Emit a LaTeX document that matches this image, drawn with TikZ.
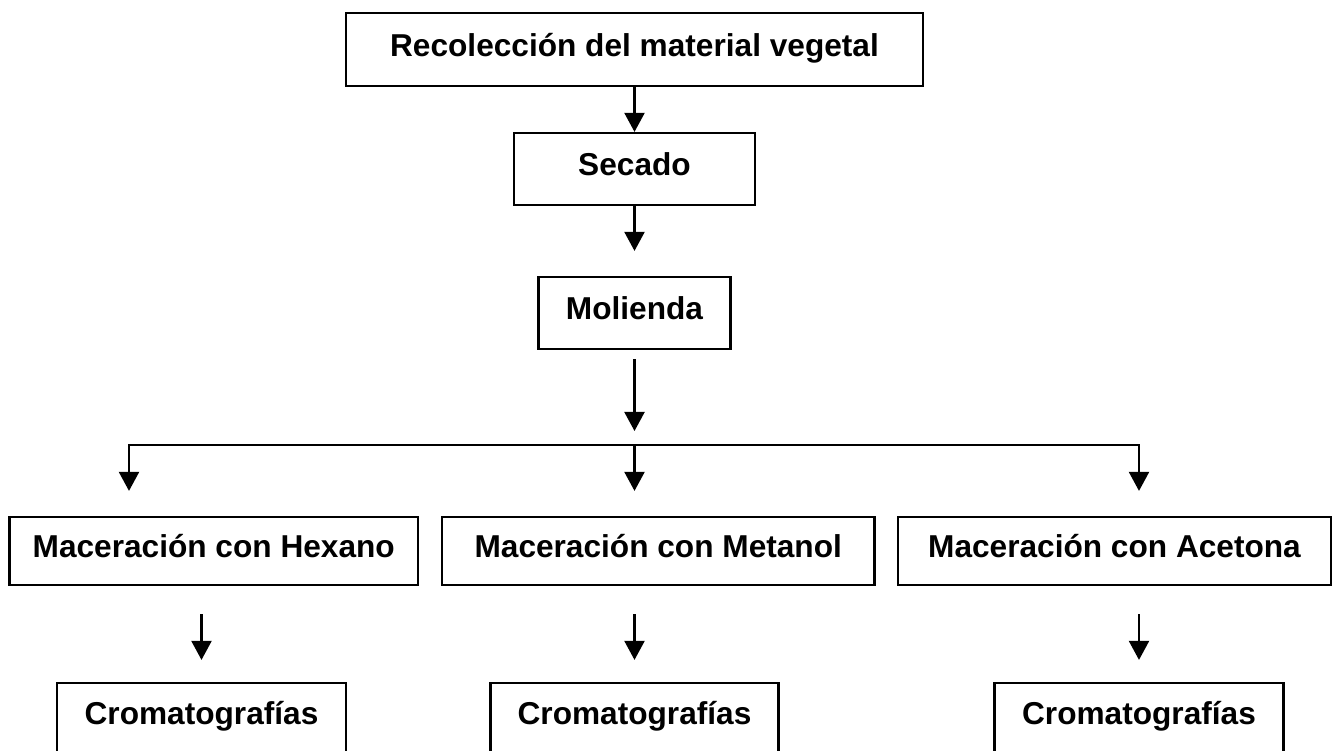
\documentclass[tikz,border=0pt]{standalone}
\usepackage{fontspec}
\setmainfont{Liberation Sans}
\usepackage{tikz}
\usetikzlibrary{arrows.meta}
\usetikzlibrary{calc}

\begin{document}
\begin{tikzpicture}[
	paso/.style={draw,line width=1.25pt,align=center,inner sep=0pt,
		font=\fontsize{18}{22}\selectfont\bfseries,text height=12.5pt,text depth=5pt},
	flecha/.style={line width=1.2pt,-{Triangle[length=0.38cm,width=0.4cm]}}]
	\useasboundingbox (0,0) rectangle (26.7,-15.02);
	
	\node[paso,minimum width=11.54cm,minimum height=1.46cm] (recoleccion) at (12.69,-0.99) {Recolección del material vegetal};
	\node[paso,minimum width=4.82cm,minimum height=1.44cm] (secado) at (12.69,-3.38) {Secado};
	\node[paso,minimum width=3.84cm,minimum height=1.44cm] (molienda) at (12.69,-6.26) {Molienda};
	
	\node[paso,minimum width=8.17cm,minimum height=1.36cm] (hexano) at (4.275,-11.02) {Maceración con Hexano};
	\node[paso,minimum width=8.65cm,minimum height=1.36cm] (metanol) at (13.165,-11.02) {Maceración con Metanol};
	\node[paso,minimum width=8.66cm,minimum height=1.36cm] (acetona) at (22.29,-11.02) {Maceración con Acetona};
	
	\node[paso,minimum width=5.78cm,minimum height=1.4cm] (crom1) at (4.03,-14.36) {Cromatografías};
	\node[paso,minimum width=5.76cm,minimum height=1.4cm] (crom2) at (12.69,-14.36) {Cromatografías};
	\node[paso,minimum width=5.78cm,minimum height=1.4cm] (crom3) at (22.78,-14.36) {Cromatografías};
	
	\coordinate (division) at (12.69,-8.9);
	\coordinate (izq) at (2.58,-8.9);
	\coordinate (der) at (22.78,-8.9);
	
	\draw[flecha] (recoleccion) -- (secado);
	\draw[flecha,shorten >=0.5cm] (secado) -- (molienda);
	\draw[flecha,shorten <=0.18cm,shorten >=0.28cm] (molienda) -- (division);
	
	\draw[flecha,shorten >=0.5cm] (division) -- (izq) -- (izq |- hexano.north);
	\draw[flecha,shorten >=0.5cm] (division) -- (division |- metanol.north);
	\draw[flecha,shorten >=0.5cm] (division) -- (der) -- (der |- acetona.north);
	
	\draw[flecha,shorten <=0.56cm,shorten >=0.44cm] (crom1 |- hexano.south) -- (crom1);
	\draw[flecha,shorten <=0.56cm,shorten >=0.44cm] (crom2 |- metanol.south) -- (crom2);
	\draw[flecha,shorten <=0.56cm,shorten >=0.44cm] (crom3 |- acetona.south) -- (crom3);
\end{tikzpicture}
\end{document}
